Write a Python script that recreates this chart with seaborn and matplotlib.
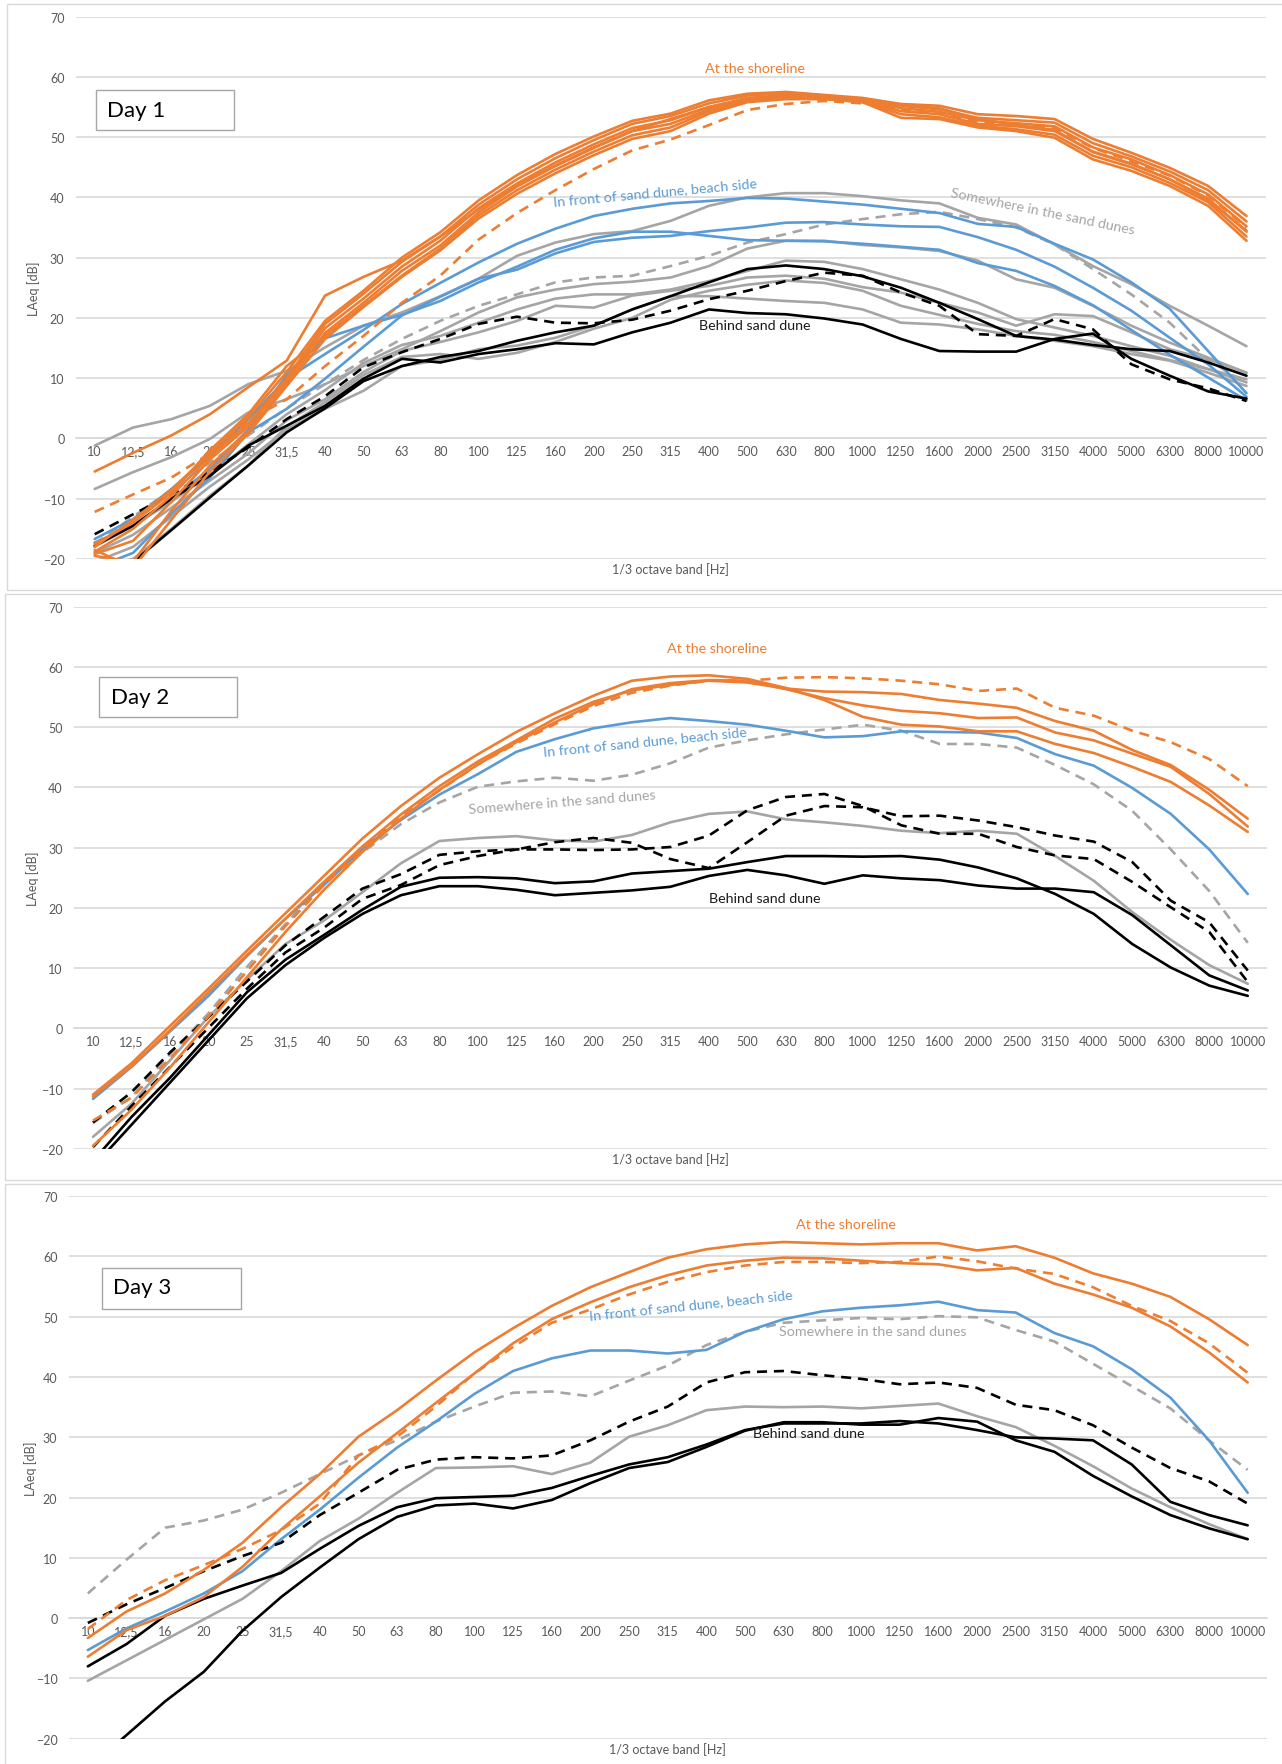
import matplotlib
matplotlib.use("Agg")
import matplotlib.pyplot as plt
from matplotlib.patches import Rectangle
import pandas as pd
import seaborn as sns

# 1/3 octave band centre frequencies (category axis)
BANDS = ['10', '12,5', '16', '20', '25', '31,5', '40', '50', '63', '80', '100',
         '125', '160', '200', '250', '315', '400', '500', '630', '800', '1000',
         '1250', '1600', '2000', '2500', '3150', '4000', '5000', '6300', '8000', '10000']

# ---------------- Day 1 : LAeq [dB] per band ----------------
day1_shore_1 = [-5.5, -2.4, 0.5, 4.0, 8.5, 12.9, 23.7, 26.8, 29.5, 33.5, 38.0, 42.0, 45.3, 48.3, 51.0, 53.0,
                55.0, 56.3, 56.8, 56.5, 56.0, 55.3, 54.8, 53.0, 52.0, 51.2, 47.5, 45.5, 43.0, 39.5, 34.5]
day1_shore_2 = [-18.0, -13.5, -8.5, -2.5, 3.5, 11.0, 19.5, 24.5, 30.0, 34.2, 39.5, 43.7, 47.2, 50.1, 52.7, 53.9,
                56.1, 57.2, 57.5, 57.0, 56.5, 55.5, 55.2, 53.8, 53.5, 53.0, 49.7, 47.4, 44.9, 41.9, 36.9]
day1_shore_3 = [-18.8, -15.0, -9.5, -3.0, 2.5, 10.0, 19.0, 24.0, 29.3, 33.5, 38.8, 43.0, 46.5, 49.5, 52.2, 53.5,
                55.6, 56.9, 57.3, 56.9, 56.3, 55.2, 54.6, 53.2, 52.8, 52.4, 49.0, 46.8, 44.3, 41.2, 36.0]
day1_shore_4 = [-19.2, -17.0, -10.5, -3.5, 2.0, 9.5, 18.3, 23.2, 28.5, 32.8, 38.2, 42.3, 45.8, 48.8, 51.5, 52.8,
                55.0, 56.5, 57.0, 56.7, 56.1, 54.8, 54.2, 52.8, 52.3, 51.8, 48.3, 46.3, 43.7, 40.5, 35.2]
day1_shore_5 = [-19.5, -20.5, -12.0, -4.5, 1.2, 9.0, 17.5, 22.5, 27.8, 32.0, 37.5, 41.8, 45.2, 48.2, 51.0, 52.2,
                54.6, 56.2, 56.8, 56.5, 55.9, 54.3, 53.8, 52.2, 51.8, 51.0, 47.6, 45.6, 43.0, 39.8, 34.3]
day1_shore_6 = [-17.5, -14.0, -9.0, -2.0, 4.0, 12.0, 17.0, 22.0, 27.0, 31.5, 37.0, 41.2, 44.6, 47.6, 50.3, 51.6,
                54.3, 56.0, 56.6, 56.4, 55.8, 53.8, 53.3, 51.9, 51.3, 50.4, 46.9, 45.0, 42.4, 39.2, 33.5]
day1_shore_7 = [-18.5, -21.5, -13.5, -5.5, 0.8, 8.7, 16.5, 21.8, 26.8, 31.2, 36.5, 40.6, 44.0, 47.0, 49.7, 51.0,
                53.9, 55.8, 56.3, 56.3, 55.8, 53.2, 53.0, 51.6, 51.0, 49.9, 46.3, 44.4, 41.9, 38.6, 32.8]
day1_shore_dash = [-12.2, -9.3, -6.5, -2.5, 3.0, 6.5, 12.0, 17.0, 22.5, 27.0, 33.0, 37.4, 41.2, 44.7, 47.8, 49.6,
                   52.0, 54.5, 55.5, 56.0, 55.6, 54.6, 54.0, 52.5, 52.2, 51.5, 48.2, 46.0, 43.6, 40.3, 35.0]
day1_front_1 = [-16.7, -13.4, -8.4, -2.9, 3.2, 9.9, 14.0, 18.0, 22.3, 25.8, 29.2, 32.3, 34.8, 36.9, 38.1, 39.0,
                39.4, 39.9, 39.8, 39.3, 38.8, 38.1, 37.4, 35.6, 35.1, 32.3, 29.7, 25.9, 21.5, 14.5, 7.5]
day1_front_2 = [-17.3, -14.5, -10.0, -5.1, 1.5, 10.5, 16.6, 18.7, 20.5, 22.8, 25.9, 28.5, 31.3, 33.2, 34.3, 34.3,
                33.6, 32.9, 32.8, 32.7, 32.3, 31.8, 31.3, 29.1, 27.8, 25.3, 22.1, 18.0, 13.9, 10.1, 6.3]
day1_front_3 = [-21.5, -19.0, -12.5, -6.5, 1.0, 4.9, 9.9, 15.2, 20.4, 23.5, 26.5, 28.0, 30.7, 32.6, 33.3, 33.6,
                34.4, 35.0, 35.8, 35.9, 35.5, 35.2, 35.1, 33.4, 31.3, 28.5, 25.0, 21.2, 16.7, 12.3, 6.9]
day1_dunes_1 = [-1.2, 1.8, 3.2, 5.4, 9.0, 11.2, 15.1, 18.7, 20.9, 23.6, 26.5, 30.3, 32.5, 33.9, 34.4, 36.1,
                38.6, 40.0, 40.7, 40.7, 40.2, 39.5, 39.0, 36.6, 35.5, 32.2, 28.6, 25.6, 22.0, 18.7, 15.3]
day1_dunes_2 = [-8.4, -5.6, -3.1, -0.1, 4.3, 6.5, 9.0, 12.0, 14.8, 17.8, 20.9, 23.4, 24.7, 25.6, 26.0, 26.7,
                28.6, 31.5, 32.8, 32.8, 32.1, 31.7, 31.1, 29.5, 26.4, 25.0, 22.0, 18.7, 15.9, 13.4, 10.9]
day1_dunes_3 = [-18.0, -14.5, -10.5, -6.0, -1.0, 4.0, 8.0, 12.5, 15.5, 17.0, 19.2, 21.4, 23.2, 23.9, 23.9, 24.7,
                26.1, 27.8, 29.5, 29.3, 28.1, 26.4, 24.7, 22.5, 19.8, 18.4, 17.0, 15.3, 13.7, 11.5, 9.3]
day1_dunes_4 = [-19.0, -16.0, -11.5, -7.0, -2.5, 3.0, 6.5, 11.0, 14.5, 16.0, 17.6, 19.5, 22.0, 21.7, 23.7, 24.5,
                25.3, 26.7, 27.0, 26.5, 25.1, 24.2, 22.5, 20.9, 18.7, 20.6, 20.3, 17.6, 14.8, 13.1, 10.9]
day1_dunes_5 = [-20.5, -18.0, -13.0, -8.0, -3.5, 1.5, 4.9, 7.9, 12.0, 13.0, 14.8, 15.4, 16.7, 18.7, 21.4, 23.6,
                23.6, 23.2, 22.8, 22.5, 21.4, 19.2, 18.9, 18.1, 17.0, 16.2, 15.3, 14.0, 12.9, 10.9, 8.7]
day1_dunes_6 = [-21.5, -20.0, -15.0, -9.5, -4.5, 2.0, 6.0, 10.5, 13.5, 14.0, 13.2, 14.2, 16.0, 18.2, 20.0, 23.0,
                24.5, 25.5, 26.2, 25.8, 24.5, 22.0, 20.5, 19.0, 17.8, 17.2, 16.0, 14.5, 13.0, 11.5, 9.8]
day1_dunes_dash = [-17.5, -13.0, -8.5, -4.0, 0.5, 5.0, 9.0, 13.0, 16.5, 19.5, 22.0, 23.9, 25.9, 26.7, 27.0, 28.6,
                   30.3, 32.5, 33.9, 35.5, 36.4, 37.2, 37.6, 36.4, 35.0, 32.2, 28.1, 23.9, 19.2, 13.1, 9.0]
day1_behind_1 = [-23.0, -20.5, -15.2, -9.8, -4.5, 1.0, 5.0, 9.5, 12.0, 13.5, 14.5, 16.2, 17.6, 18.7, 21.4, 23.6,
                 25.9, 28.1, 28.7, 28.1, 26.9, 25.0, 22.5, 19.8, 17.0, 16.4, 15.5, 14.8, 14.5, 12.6, 10.4]
day1_behind_2 = [-17.8, -14.5, -10.0, -6.2, -1.2, 2.1, 5.4, 9.9, 13.2, 12.6, 14.0, 14.8, 15.8, 15.6, 17.6, 19.2,
                 21.4, 20.8, 20.6, 19.9, 18.9, 16.5, 14.5, 14.4, 14.4, 16.5, 17.4, 13.2, 10.4, 7.8, 6.6]
day1_behind_dash = [-15.9, -12.6, -9.3, -5.6, -1.5, 3.2, 7.0, 11.8, 14.3, 16.5, 19.0, 20.2, 19.2, 19.1, 19.7, 21.2,
                    23.1, 24.5, 26.1, 27.5, 27.0, 24.2, 22.0, 17.3, 17.0, 19.8, 18.1, 12.3, 9.8, 8.3, 6.2]

# ---------------- Day 2 ----------------
day2_shore_1 = [-11.0, -5.8, 0.4, 6.6, 12.9, 19.1, 25.3, 31.5, 36.9, 41.6, 45.5, 49.2, 52.3, 55.2, 57.7, 58.4,
                58.6, 58.0, 56.5, 54.5, 51.7, 50.4, 50.1, 49.3, 49.3, 47.2, 45.7, 43.4, 40.9, 37.0, 32.6]
day2_shore_2 = [-19.5, -13.5, -6.5, 1.0, 8.5, 16.0, 23.0, 29.3, 34.8, 39.6, 43.8, 47.5, 50.8, 53.8, 56.3, 57.3,
                57.8, 57.7, 56.3, 54.8, 53.6, 52.7, 52.3, 51.5, 51.6, 49.1, 47.8, 45.6, 43.4, 38.9, 33.5]
day2_shore_3 = [-11.3, -6.3, -0.3, 6.0, 12.2, 18.2, 24.3, 30.2, 35.5, 40.2, 44.3, 47.8, 51.4, 54.2, 56.1, 57.0,
                57.7, 57.4, 56.4, 55.9, 55.8, 55.5, 54.5, 53.9, 53.2, 51.0, 49.4, 46.2, 43.7, 39.6, 34.8]
day2_shore_dash = [-15.3, -11.5, -5.0, 2.0, 9.5, 17.0, 23.8, 29.8, 35.2, 39.5, 43.8, 47.3, 50.5, 53.5, 55.7, 56.9,
                   57.7, 57.7, 58.2, 58.3, 58.1, 57.7, 57.1, 56.0, 56.4, 53.2, 51.9, 49.4, 47.5, 44.7, 40.2]
day2_front = [-11.7, -6.4, -0.5, 5.4, 12.0, 18.2, 23.8, 29.8, 34.6, 38.8, 42.2, 45.9, 48.0, 49.8, 50.8, 51.5,
              51.0, 50.4, 49.4, 48.3, 48.5, 49.3, 49.2, 49.1, 48.2, 45.5, 43.6, 39.9, 35.6, 29.7, 22.3]
day2_dunes = [-18.0, -12.5, -5.3, 1.9, 8.1, 14.0, 17.9, 22.6, 27.4, 31.1, 31.6, 31.9, 31.2, 31.0, 32.1, 34.2,
              35.6, 36.0, 34.7, 34.2, 33.6, 32.8, 32.4, 32.8, 32.3, 28.6, 24.5, 19.3, 14.7, 10.5, 7.4]
day2_dunes_dash = [-15.7, -11.4, -4.3, 2.5, 10.2, 17.3, 24.4, 29.2, 33.9, 37.5, 40.1, 41.0, 41.6, 41.1, 42.1, 44.0,
                   46.6, 47.8, 48.8, 49.6, 50.4, 49.4, 47.2, 47.2, 46.6, 43.7, 40.5, 36.1, 29.7, 22.8, 14.2]
day2_behind_1 = [-22.0, -14.7, -8.2, -1.1, 6.0, 11.4, 15.5, 19.7, 23.5, 25.0, 25.1, 24.9, 24.1, 24.4, 25.7, 26.1,
                 26.5, 27.6, 28.6, 28.6, 28.5, 28.6, 28.0, 26.7, 24.9, 22.3, 19.0, 14.0, 10.1, 7.1, 5.4]
day2_behind_2 = [-23.0, -16.0, -9.0, -2.0, 5.0, 10.5, 15.0, 19.0, 22.1, 23.6, 23.6, 23.0, 22.1, 22.5, 22.9, 23.5,
                 25.3, 26.3, 25.4, 24.0, 25.4, 24.9, 24.6, 23.7, 23.2, 23.2, 22.6, 18.8, 13.8, 8.8, 6.3]
day2_behind_dash_1 = [-15.6, -10.6, -4.0, 1.9, 7.8, 13.8, 18.5, 23.2, 25.6, 28.8, 29.4, 29.7, 30.9, 31.6, 30.8, 28.1,
                      26.6, 30.9, 35.3, 36.9, 36.7, 35.2, 35.3, 34.5, 33.4, 32.0, 31.0, 27.6, 21.2, 17.6, 9.6]
day2_behind_dash_2 = [-19.7, -12.9, -6.4, 0.1, 6.6, 12.6, 16.7, 21.5, 23.8, 27.1, 28.6, 29.7, 29.7, 29.6, 29.7, 30.1,
                      32.0, 36.2, 38.4, 38.9, 36.9, 33.7, 32.3, 32.3, 30.1, 28.7, 28.1, 24.3, 20.1, 16.0, 7.7]

# ---------------- Day 3 ----------------
day3_shore_1 = [-3.3, 1.1, 4.1, 8.0, 12.5, 18.4, 23.9, 30.1, 34.5, 39.4, 44.1, 48.1, 51.8, 54.9, 57.4, 59.8,
                61.2, 62.0, 62.4, 62.2, 62.0, 62.2, 62.2, 61.0, 61.7, 59.8, 57.2, 55.5, 53.3, 49.6, 45.3]
day3_shore_2 = [-6.4, -2.0, 0.4, 3.5, 8.5, 14.7, 20.2, 25.8, 30.7, 35.7, 40.6, 45.6, 49.6, 52.4, 54.9, 56.9,
                58.5, 59.3, 59.8, 59.7, 59.3, 58.9, 58.7, 57.7, 58.1, 55.5, 53.7, 51.5, 48.4, 44.1, 39.1]
day3_shore_dash = [-1.8, 3.0, 6.3, 8.8, 11.5, 14.6, 19.0, 27.0, 30.1, 35.1, 40.6, 45.0, 49.0, 51.2, 53.7, 55.8,
                   57.4, 58.5, 59.1, 59.1, 58.9, 59.1, 60.0, 59.2, 58.0, 57.1, 54.9, 51.8, 49.3, 45.6, 40.7]
day3_front = [-5.3, -1.7, 1.1, 4.1, 7.8, 13.1, 18.0, 23.3, 28.3, 32.6, 37.2, 41.0, 43.1, 44.4, 44.4, 43.9,
              44.5, 47.5, 49.6, 50.9, 51.5, 51.9, 52.5, 51.1, 50.7, 47.3, 45.1, 41.3, 36.6, 29.5, 20.8]
day3_dunes = [-10.4, -7.0, -3.6, -0.2, 3.2, 7.8, 12.8, 16.5, 20.8, 24.9, 25.0, 25.2, 23.9, 25.8, 30.1, 32.0,
              34.5, 35.1, 35.0, 35.1, 34.8, 35.2, 35.6, 33.5, 31.7, 28.6, 25.2, 21.5, 18.4, 15.6, 13.1]
day3_dunes_dash = [4.1, 9.7, 15.0, 16.2, 18.0, 20.8, 23.9, 27.0, 29.5, 32.6, 35.1, 37.4, 37.6, 36.8, 39.4, 41.9,
                   45.3, 47.5, 49.0, 49.4, 49.8, 49.6, 50.1, 49.9, 47.8, 45.9, 42.2, 38.5, 34.8, 29.5, 24.6]
day3_behind_1 = [-8.0, -4.3, 0.4, 3.2, 5.4, 7.5, 11.5, 15.3, 18.4, 19.9, 20.1, 20.3, 21.6, 23.6, 25.5, 26.7,
                 28.8, 31.2, 32.3, 32.3, 32.3, 32.7, 32.3, 31.2, 30.0, 29.8, 29.5, 25.5, 19.3, 17.1, 15.4]
day3_behind_2 = [-25.0, -19.4, -13.8, -8.9, -2.1, 3.5, 8.4, 13.1, 16.8, 18.7, 19.0, 18.2, 19.6, 22.4, 24.9, 25.9,
                 28.4, 31.1, 32.5, 32.5, 32.1, 32.1, 33.2, 32.6, 29.5, 27.6, 23.6, 20.2, 17.1, 14.9, 13.1]
day3_behind_dash = [-0.8, 2.3, 5.0, 7.8, 10.3, 12.5, 17.1, 20.8, 24.6, 26.3, 26.7, 26.5, 27.0, 29.5, 32.6, 35.1,
                    39.1, 40.8, 41.0, 40.3, 39.7, 38.8, 39.1, 38.2, 35.4, 34.5, 32.0, 28.3, 24.9, 22.7, 19.0]

# ---------------- styling ----------------
ORANGE = '#ED7D31'
BLUE = '#5B9BD5'
GREY = '#A5A5A5'
BLACK = '#000000'
GRID = '#D9D9D9'
AXIS_TEXT = '#595959'
DASH = (3.8, 2.6)
LW = 1.9

sns.set_style('white')
plt.rcParams['font.family'] = ['Lato', 'DejaVu Sans']

# series per day, in drawing order: (values, colour, dashed)
DAYS = [
    [(day1_dunes_1, GREY, False), (day1_dunes_2, GREY, False), (day1_dunes_3, GREY, False),
     (day1_dunes_4, GREY, False), (day1_dunes_5, GREY, False), (day1_dunes_6, GREY, False),
     (day1_dunes_dash, GREY, True),
     (day1_front_1, BLUE, False), (day1_front_2, BLUE, False), (day1_front_3, BLUE, False),
     (day1_behind_1, BLACK, False), (day1_behind_2, BLACK, False), (day1_behind_dash, BLACK, True),
     (day1_shore_1, ORANGE, False), (day1_shore_2, ORANGE, False), (day1_shore_3, ORANGE, False),
     (day1_shore_4, ORANGE, False), (day1_shore_5, ORANGE, False), (day1_shore_6, ORANGE, False),
     (day1_shore_7, ORANGE, False), (day1_shore_dash, ORANGE, True)],
    [(day2_dunes, GREY, False), (day2_dunes_dash, GREY, True),
     (day2_front, BLUE, False),
     (day2_behind_1, BLACK, False), (day2_behind_2, BLACK, False),
     (day2_behind_dash_1, BLACK, True), (day2_behind_dash_2, BLACK, True),
     (day2_shore_1, ORANGE, False), (day2_shore_2, ORANGE, False), (day2_shore_3, ORANGE, False),
     (day2_shore_dash, ORANGE, True)],
    [(day3_dunes, GREY, False), (day3_dunes_dash, GREY, True),
     (day3_front, BLUE, False),
     (day3_behind_1, BLACK, False), (day3_behind_2, BLACK, False), (day3_behind_dash, BLACK, True),
     (day3_shore_1, ORANGE, False), (day3_shore_2, ORANGE, False), (day3_shore_dash, ORANGE, True)],
]

DAY_NAMES = ['Day 1', 'Day 2', 'Day 3']

# text labels placed on the curves: (text, band position, level, rotation, colour)
LABELS = [
    [('At the shoreline', 17.2, 61.4, 0, ORANGE),
     ('In front of sand dune, beach side', 14.6, 40.9, 5.3, BLUE),
     ('Somewhere in the sand dunes', 24.7, 37.7, -11.6, GREY),
     ('Behind sand dune', 17.2, 18.8, 0, '#1a1a1a')],
    [('At the shoreline', 16.2, 63.2, 0, ORANGE),
     ('In front of sand dune, beach side', 14.35, 47.7, 5.7, BLUE),
     ('Somewhere in the sand dunes', 12.2, 37.6, 4.5, GREY),
     ('Behind sand dune', 17.45, 21.7, 0, '#1a1a1a')],
    [('At the shoreline', 19.6, 65.4, 0, ORANGE),
     ('In front of sand dune, beach side', 15.6, 52.1, 6.0, BLUE),
     ('Somewhere in the sand dunes', 20.3, 47.7, 0, GREY),
     ('Behind sand dune', 18.65, 30.65, 0, '#1a1a1a')],
]

# layout in pixels
W, H = 1282, 1765
PLOT_AREAS = [(75.5, 1265.7, 17.6, 559.9), (73.75, 1267.0, 607.6, 1149.9), (68.5, 1267.0, 1197.2, 1739.7)]
FRAMES = [(7, 5, 1290, 591), (5, 594.6, 1290, 1181), (5, 1184.5, 1290, 1775)]
YLABEL_X = [34.0, 32.7, 30.6]
DAY_BOXES = [(96, 90.7, 234, 130.5), (99, 678.4, 237, 717.8), (101.6, 1268.8, 241, 1309.5)]
DAY_TEXT = [(107.3, 116.7), (111, 704.0), (113, 1293.8)]

fig = plt.figure(figsize=(W / 100, H / 100), dpi=100)
fig.patch.set_facecolor('white')

for k in range(3):
    fx0, fy0, fx1, fy1 = FRAMES[k]
    fig.add_artist(Rectangle((fx0 / W, 1 - fy1 / H), (fx1 - fx0) / W, (fy1 - fy0) / H,
                             transform=fig.transFigure, fill=False, ec=GRID, lw=1.0, zorder=0))

    left, right, top, bottom = PLOT_AREAS[k]
    ax = fig.add_axes([left / W, 1 - bottom / H, (right - left) / W, (bottom - top) / H])
    ax.set_facecolor('none')

    rows = []
    palette = {}
    dashes = {}
    for j, (vals, colour, dashed) in enumerate(DAYS[k]):
        name = f's{j:02d}'
        palette[name] = colour
        dashes[name] = DASH if dashed else ''
        for i, v in enumerate(vals):
            rows.append({'band': i, 'level': v, 'series': name})
    df = pd.DataFrame(rows)
    order = list(palette.keys())
    sns.lineplot(data=df, x='band', y='level', hue='series', style='series',
                 hue_order=order, style_order=order, palette=palette, dashes=dashes,
                 linewidth=LW, estimator=None, errorbar=None, sort=False,
                 legend=False, ax=ax, zorder=3)

    ax.set_xlim(-0.5, 30.5)
    ax.set_ylim(-20, 70)
    ax.set_yticks(range(-20, 71, 10))
    ax.set_xticks(range(len(BANDS)))
    ax.set_xticklabels(BANDS)
    ax.set_xlabel('')
    ax.set_ylabel('')
    ax.grid(axis='y', color=GRID, lw=1.2)
    ax.grid(axis='x', visible=False)
    ax.set_axisbelow(True)
    for s in ['top', 'right', 'left']:
        ax.spines[s].set_visible(False)
    ax.spines['bottom'].set_position(('data', 0))
    ax.spines['bottom'].set_color(GRID)
    ax.spines['bottom'].set_linewidth(1.2)
    ax.tick_params(axis='both', length=0, labelsize=9, labelcolor=AXIS_TEXT)
    ax.tick_params(axis='x', pad=5)
    ax.tick_params(axis='y', pad=8)

    width = right - left
    height = bottom - top
    ax.text((YLABEL_X[k] - left) / width, 0.5, 'LAeq [dB]', transform=ax.transAxes,
            rotation=90, ha='center', va='center', fontsize=9, color=AXIS_TEXT)
    ax.text(0.5, -10 / height, '1/3 octave band [Hz]', transform=ax.transAxes,
            ha='center', va='center', fontsize=9, color=AXIS_TEXT)

    for text, bx, by, rot, colour in LABELS[k]:
        ax.text(bx, by, text, ha='center', va='center', rotation=rot,
                rotation_mode='anchor', fontsize=10.3, color=colour, zorder=5)

    bx0, by0, bx1, by1 = DAY_BOXES[k]
    fig.add_artist(Rectangle((bx0 / W, 1 - by1 / H), (bx1 - bx0) / W, (by1 - by0) / H,
                             transform=fig.transFigure, fill=True, fc='white',
                             ec='#A6A6A6', lw=1.0, zorder=6))
    tx, ty = DAY_TEXT[k]
    fig.text(tx / W, 1 - ty / H, DAY_NAMES[k], ha='left', va='baseline',
             fontsize=16, color='#000000', zorder=7)

fig.savefig('out.png', dpi=100, facecolor='white')
